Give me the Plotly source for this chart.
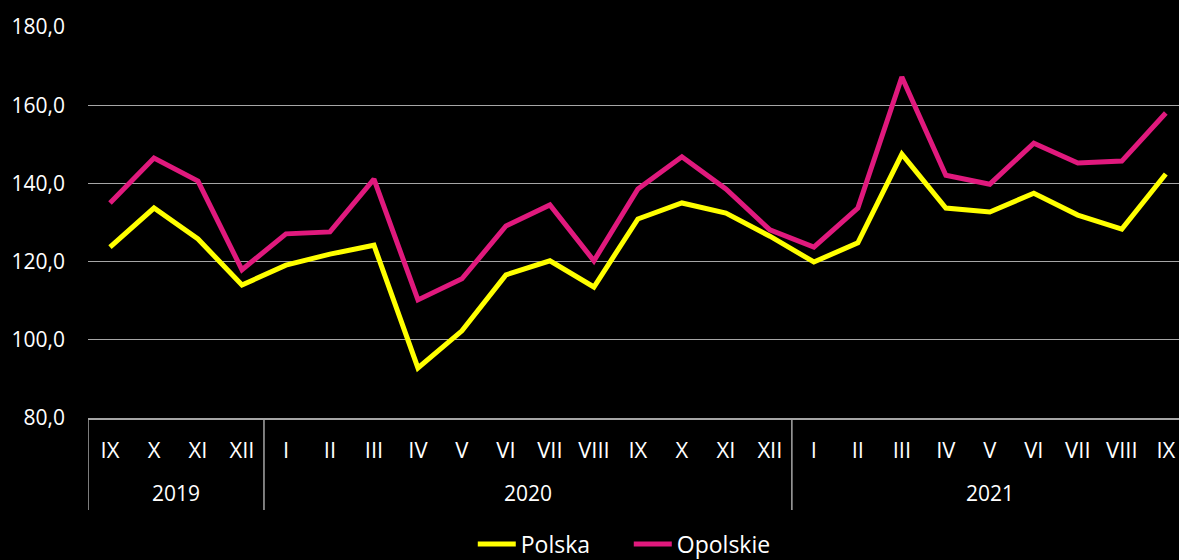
import plotly.graph_objects as go

years = ["2019", "2020", "2021"]
year_counts = [4, 12, 9]
months = ["IX", "X", "XI", "XII",
          "I", "II", "III", "IV", "V", "VI", "VII", "VIII", "IX", "X", "XI", "XII",
          "I", "II", "III", "IV", "V", "VI", "VII", "VIII", "IX"]
polska = [123.7, 133.7, 125.8, 114.0,
          119.1, 121.9, 124.2, 92.8, 102.3, 116.6, 120.2, 113.5, 130.9, 135.0, 132.4, 126.5,
          119.9, 124.8, 147.5, 133.7, 132.7, 137.5, 131.9, 128.3, 142.4]
opolskie = [135.0, 146.5, 140.6, 117.9,
            127.1, 127.6, 141.1, 110.2, 115.6, 129.1, 134.5, 120.2, 138.6, 146.8, 138.6, 128.1,
            123.7, 133.7, 167.2, 142.1, 139.8, 150.3, 145.2, 145.7, 158.0]

FONT = "Open Sans"
idx = list(range(len(months)))

fig = go.Figure()
fig.add_trace(go.Scatter(x=idx, y=polska, name="Polska", mode="lines",
                         line=dict(color="#FFFF00", width=5)))
fig.add_trace(go.Scatter(x=idx, y=opolskie, name="Opolskie", mode="lines",
                         line=dict(color="#E0197D", width=5)))

# year group labels and dividers
start = 0
bounds = [-0.5]
for yr, n in zip(years, year_counts):
    center = start + (n - 1) / 2
    fig.add_annotation(x=center, xref="x", y=-0.192, yref="paper", text=yr,
                       showarrow=False, font=dict(size=21, color="white"),
                       xanchor="center", yanchor="middle")
    start += n
    bounds.append(start - 0.5)
for b in bounds[:-1]:
    fig.add_shape(type="line", xref="x", yref="paper", x0=b, x1=b, y0=0, y1=-0.235,
                  line=dict(color="#a6a6a6", width=1.5))

fig.update_layout(
    width=1179, height=560,
    paper_bgcolor="black", plot_bgcolor="black",
    margin=dict(l=88, r=0, t=27, b=142, autoexpand=False),
    separators=", ",
    font=dict(family=FONT, color="white", size=21),
    showlegend=True,
    legend=dict(orientation="h", xref="container", yref="container",
                x=0.401, xanchor="left", y=(560 - 544) / 560, yanchor="middle",
                itemwidth=38, entrywidth=103, entrywidthmode="pixels",
                font=dict(size=23, color="white"), bgcolor="rgba(0,0,0,0)"),
    xaxis=dict(range=[-0.5, 24.3], showgrid=False, zeroline=False,
               tickmode="array", tickvals=idx, ticktext=months,
               showline=True, linecolor="#a6a6a6", linewidth=1.5,
               ticks="", tickfont=dict(size=22, color="white"), ticklabelstandoff=12),
    yaxis=dict(range=[80, 180], dtick=20, tickformat=".1f", showgrid=True,
               gridcolor="#a6a6a6", gridwidth=1.2, zeroline=False, showline=False,
               ticks="", tickfont=dict(size=21, color="white"), ticklabelstandoff=22),
)

fig.write_html("out.html", config={"displayModeBar": False},
               post_script="document.body.style.margin='0';document.body.style.background='black';")
